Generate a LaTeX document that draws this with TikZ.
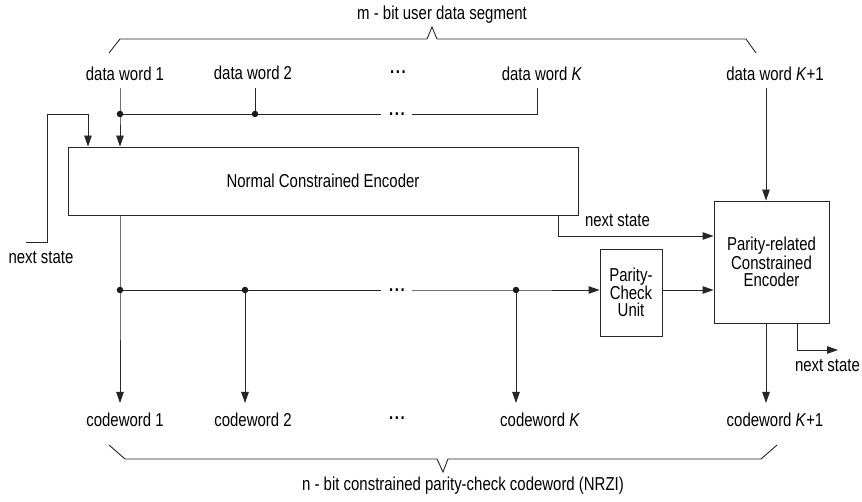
\documentclass[tikz,border=0pt]{standalone}
\usepackage{fontspec}
\setmainfont{Liberation Sans}[FakeStretch=0.8]
\usetikzlibrary{arrows.meta}

\begin{document}
\begin{tikzpicture}[x=1pt,y=-1pt,
  font=\fontsize{18.7}{17}\selectfont,
  wire/.style={line width=0.9pt, draw=black!85},
  arr/.style={wire, -{Triangle[length=11pt,width=7.5pt]}},
  jdot/.style={circle, fill=black!90, inner sep=0pt, minimum size=6.5pt},
  lbl/.style={inner sep=0pt, anchor=base},
  blk/.style={draw=black!85, line width=0.9pt, align=center, inner sep=0pt},
  ell/.style={inner sep=0pt, anchor=base, font=\fontsize{18.7}{17}\selectfont\bfseries},
]
\useasboundingbox (0,0) rectangle (862,502);

% ---- braces ----
\draw[wire] (109,53) -- (120,39) -- (427,39) -- (432,27) -- (437,39) -- (746,39) -- (756,53);
\draw[wire] (109,445) -- (125,459) -- (437,459) -- (443,472) -- (448,459) -- (761,459) -- (777,445);
\node[lbl] (mseg) at (442,20) {m - bit user data segment};
\node[lbl] (nseg) at (463,490) {n - bit constrained parity-check codeword (NRZI)};

% ---- input labels ----
\node[lbl] (dw1) at (125,81) {data word 1};
\node[lbl] (dw2) at (253,80) {data word 2};
\node[ell] (dwe) at (398,73.5) {.\kern1.6pt.\kern1.6pt.};
\node[lbl] (dwK) at (542,81) {data word \textit{K}};
\node[lbl] (dwK1) at (775,81) {data word \textit{K}+1};

% ---- output labels ----
\node[lbl] (cw1) at (125,426) {codeword 1};
\node[lbl] (cw2) at (253,426) {codeword 2};
\node[ell] (cwe) at (397,419.5) {.\kern1.6pt.\kern1.6pt.};
\node[lbl] (cwK) at (540,426) {codeword \textit{K}};
\node[lbl] (cwK1) at (775,426) {codeword \textit{K}+1};

% ---- blocks ----
\node[blk, minimum width=510pt, minimum height=68pt] (nce) at (323,181) {Normal Constrained Encoder};
\node[blk, minimum width=115pt, minimum height=122pt] (prce) at (771.5,262) {Parity-related\\Constrained\\Encoder};
\node[blk, minimum width=62pt, minimum height=87pt] (pcu) at (631,292.5) {Parity-\\Check\\Unit};

% ---- junctions and wire ends ----
\coordinate (t1) at (120,88);
\coordinate (t2) at (255,88);
\coordinate (tK) at (537,88);
\coordinate (tK1) at (766,88);
\coordinate (j1) at (120,114);
\coordinate (j2) at (255,114);
\coordinate (ga) at (381,114);
\coordinate (gb) at (412,114);
\coordinate (jK) at (537,114);
\coordinate (fb0) at (26,242);
\coordinate (fb1) at (47,242);
\coordinate (fb2) at (47,114);
\coordinate (fb3) at (88,114);
\coordinate (ns1) at (558,236);
\coordinate (o1) at (120,290);
\coordinate (o2) at (245,290);
\coordinate (oa) at (381,290);
\coordinate (ob) at (412,290);
\coordinate (oK) at (516,290);
\coordinate (e1) at (120,403);
\coordinate (e2) at (245,403);
\coordinate (eK) at (516,403);
\coordinate (eK1) at (766,403);
\coordinate (ns2) at (797,350);
\coordinate (ns3) at (838,350);

\node[ell] (bue) at (397,115.5) {.\kern1.6pt.\kern1.6pt.};
\node[ell] (boe) at (397,291.5) {.\kern1.6pt.\kern1.6pt.};

% ---- input bus ----
\draw[arr] (t1) -- (j1) -- (j1 |- nce.north);
\draw[wire] (j1) -- (ga);
\draw[wire] (gb) -- (jK) -- (tK);
\draw[wire] (t2) -- (j2);
\node[jdot] at (j1) {};
\node[jdot] at (j2) {};

% ---- state feedback into the normal encoder ----
\draw[arr] (fb0) -- (fb1) -- (fb2) -- (fb3) -- (fb3 |- nce.north);
\node[lbl] (nsl) at (41,264) {next state};

% ---- state passed to the parity-related encoder ----
\draw[arr] (ns1 |- nce.south) -- (ns1) -- (ns1 -| prce.west);
\node[lbl] (nsm) at (617.5,226.5) {next state};

% ---- last data word ----
\draw[arr] (tK1) -- (tK1 |- prce.north);

% ---- output bus ----
\draw[arr] (o1 |- nce.south) -- (o1) -- (e1);
\draw[wire] (o1) -- (oa);
\draw[arr] (ob) -- (oK) -- (oK -| pcu.west);
\draw[arr] (o2) -- (e2);
\draw[arr] (oK) -- (eK);
\node[jdot] at (o1) {};
\node[jdot] at (o2) {};
\node[jdot] at (oK) {};

% ---- parity check to parity-related encoder ----
\draw[arr] (pcu.east |- oK) -- (oK -| prce.west);

% ---- parity-related encoder outputs ----
\draw[arr] (prce.south -| eK1) -- (eK1);
\draw[arr] (prce.south -| ns2) -- (ns2) -- (ns3);
\node[lbl] (nsr) at (827.5,371.5) {next state};
\end{tikzpicture}
\end{document}
